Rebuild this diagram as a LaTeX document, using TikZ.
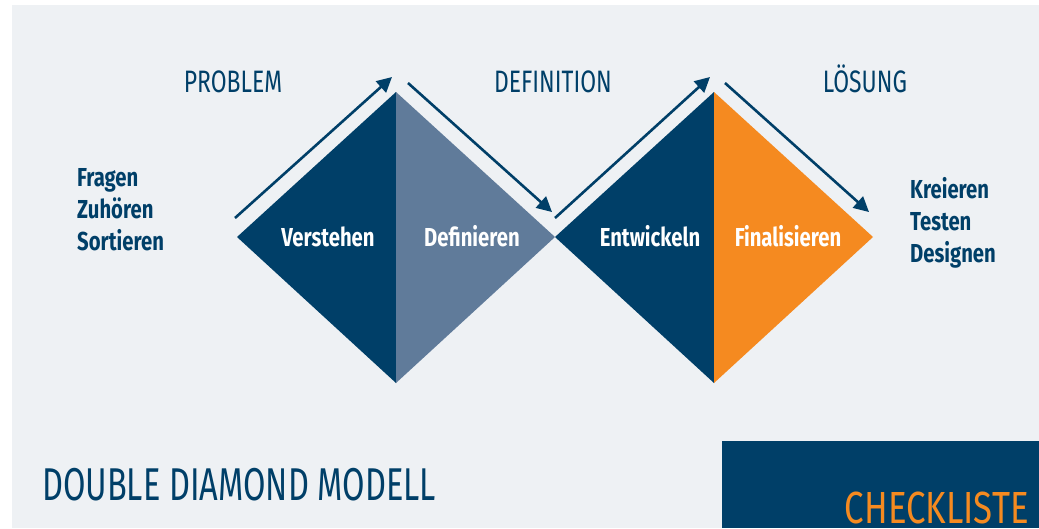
\documentclass[tikz,border=0pt]{standalone}
\usepackage{fontspec}
\setmainfont{Fira Sans}
\newfontfamily\lightf{Fira Sans}[FakeStretch=0.74]
\newfontfamily\lightn{Fira Sans}[FakeStretch=0.707]
\newfontfamily\lightw{Fira Sans}[FakeStretch=0.774]
\newfontfamily\semif{Fira Sans}[FakeStretch=0.78]
\usetikzlibrary{arrows.meta}
\definecolor{bgc}{HTML}{EEF1F4}
\definecolor{navy}{HTML}{003F68}
\definecolor{steel}{HTML}{607B9A}
\definecolor{orng}{HTML}{F58A20}
\tikzset{
  arr/.style={draw=navy, line width=2.6pt, -{Triangle[length=15pt,width=15pt]}, shorten >=0pt},
  title/.style={text=navy, font=\lightf\fontsize{31}{36}\selectfont, anchor=base, inner sep=0pt},
  lab/.style={text=white, font=\semif\bfseries\fontsize{26}{30}\selectfont, anchor=base, inner sep=0pt},
  lst/.style={text=navy, font=\semif\bfseries\fontsize{26}{30}\selectfont, anchor=base west, inner sep=0pt},
}
\begin{document}
\begin{tikzpicture}[x=1pt,y=-1pt]
\useasboundingbox (0,0) rectangle (1039,528);
\fill[white] (0,0) rectangle (1039,528);
\fill[bgc] (12,5) rectangle (1039,528);
% diamonds
\coordinate (L1) at (237,237);
\coordinate (T1) at (396,92);
\coordinate (B1) at (396,383);
\coordinate (M) at (555,237);
\coordinate (T2) at (714,92);
\coordinate (B2) at (714,383);
\coordinate (R2) at (873,237);
\fill[navy] (L1)--(T1)--(B1)--cycle;
\fill[steel] (T1)--(M)--(B1)--cycle;
\fill[navy] (M)--(T2)--(B2)--cycle;
\fill[orng] (T2)--(R2)--(B2)--cycle;
% arrows
\coordinate (a1s) at (235,218); \coordinate (a1e) at (392,77);
\coordinate (a2s) at (408,83);  \coordinate (a2e) at (552,212);
\coordinate (a3s) at (555,218); \coordinate (a3e) at (710,77);
\coordinate (a4s) at (725,83);  \coordinate (a4e) at (869,212);
\draw[arr] (a1s) -- (a1e);
\draw[arr] (a2s) -- (a2e);
\draw[arr] (a3s) -- (a3e);
\draw[arr] (a4s) -- (a4e);
% titles
\node[title] (tprob) at (233,92) {PROBLEM};
\node[title] (tdef) at (553,92) {DEFINITION};
\node[title] (tlos) at (865,92) {LÖSUNG};
% labels
\node[lab] (lv) at (328,246) {Verstehen};
\node[lab] (ld) at (472,246) {Definieren};
\node[lab] (le) at (650,246) {Entwickeln};
\node[lab] (lf) at (788,246) {Finalisieren};
% lists
\node[lst] (l1) at (77,186) {Fragen};
\node[lst] (l2) at (77,218) {Zuhören};
\node[lst] (l3) at (77,250) {Sortieren};
\node[lst] (r1) at (910,198) {Kreieren};
\node[lst] (r2) at (910,230) {Testen};
\node[lst] (r3) at (910,262) {Designen};
% bottom
\node[text=navy, font=\lightn\fontsize{46}{52}\selectfont, anchor=base west, inner sep=0pt] (ttl) at (42,500) {DOUBLE DIAMOND MODELL};
\fill[navy] (722,441) rectangle (1039,528);
\node[text=orng, font=\lightw\fontsize{45}{52}\selectfont, anchor=base east, inner sep=0pt] (chk) at (1029,523) {CHECKLISTE};
\end{tikzpicture}
\end{document}
